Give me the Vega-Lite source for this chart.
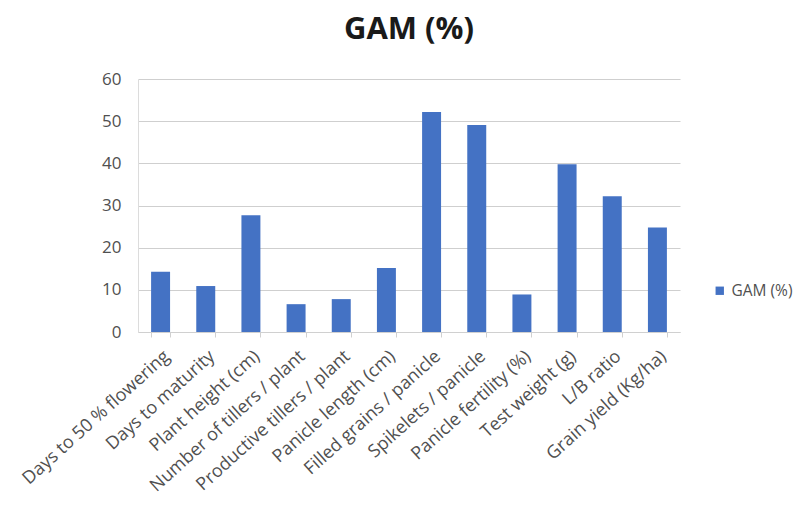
{
  "$schema": "https://vega.github.io/schema/vega-lite/v6.json",
  "autosize": {"type": "none"},
  "width": 542,
  "height": 253,
  "padding": {"left": 138, "top": 79, "right": 131, "bottom": 186},
  "background": "white",
  "title": {"text": "GAM (%)", "fontSize": 31, "font": "Open Sans", "fontWeight": "bold", "color": "#1a1a1a", "anchor": "middle", "offset": 24},
  "data": {"values": [
    {"trait": "Days to 50 % flowering", "value": 14.3, "series": "GAM (%)"},
    {"trait": "Days to maturity", "value": 10.9, "series": "GAM (%)"},
    {"trait": "Plant height (cm)", "value": 27.7, "series": "GAM (%)"},
    {"trait": "Number of tillers / plant", "value": 6.6, "series": "GAM (%)"},
    {"trait": "Productive tillers / plant", "value": 7.8, "series": "GAM (%)"},
    {"trait": "Panicle length (cm)", "value": 15.2, "series": "GAM (%)"},
    {"trait": "Filled grains / panicle", "value": 52.2, "series": "GAM (%)"},
    {"trait": "Spikelets / panicle", "value": 49.1, "series": "GAM (%)"},
    {"trait": "Panicle fertility (%)", "value": 8.9, "series": "GAM (%)"},
    {"trait": "Test weight (g)", "value": 39.8, "series": "GAM (%)"},
    {"trait": "L/B ratio", "value": 32.2, "series": "GAM (%)"},
    {"trait": "Grain yield (Kg/ha)", "value": 24.8, "series": "GAM (%)"}
  ]},
  "mark": {"type": "bar"},
  "encoding": {
    "x": {"field": "trait", "type": "nominal", "sort": null, "title": null,
      "scale": {"paddingInner": 0.58, "paddingOuter": 0.29},
      "axis": {"grid": false, "labelAngle": -42, "labelFontSize": 18, "labelFont": "Open Sans", "labelColor": "#505050", "domainColor": "#d0d0d0", "tickColor": "#d0d0d0", "tickSize": 5, "tickBand": "extent", "labelPadding": 10, "labelLimit": 300}},
    "y": {"field": "value", "type": "quantitative", "title": null,
      "scale": {"domain": [0, 60]},
      "axis": {"grid": true, "values": [0, 10, 20, 30, 40, 50, 60], "labelFontSize": 17, "labelFont": "Open Sans", "labelColor": "#505050", "domain": true, "domainColor": "#dcdcdc", "ticks": false, "gridColor": "#cfcfcf", "labelPadding": 17}},
    "color": {"field": "series", "type": "nominal", "title": null,
      "scale": {"range": ["#4472C4"]},
      "legend": {"orient": "none", "legendX": 574, "legendY": 204, "symbolType": "square", "symbolSize": 70, "labelFontSize": 15.5, "labelFont": "Open Sans", "labelColor": "#505050", "labelLimit": 200}}
  },
  "config": {"view": {"stroke": null}}
}
